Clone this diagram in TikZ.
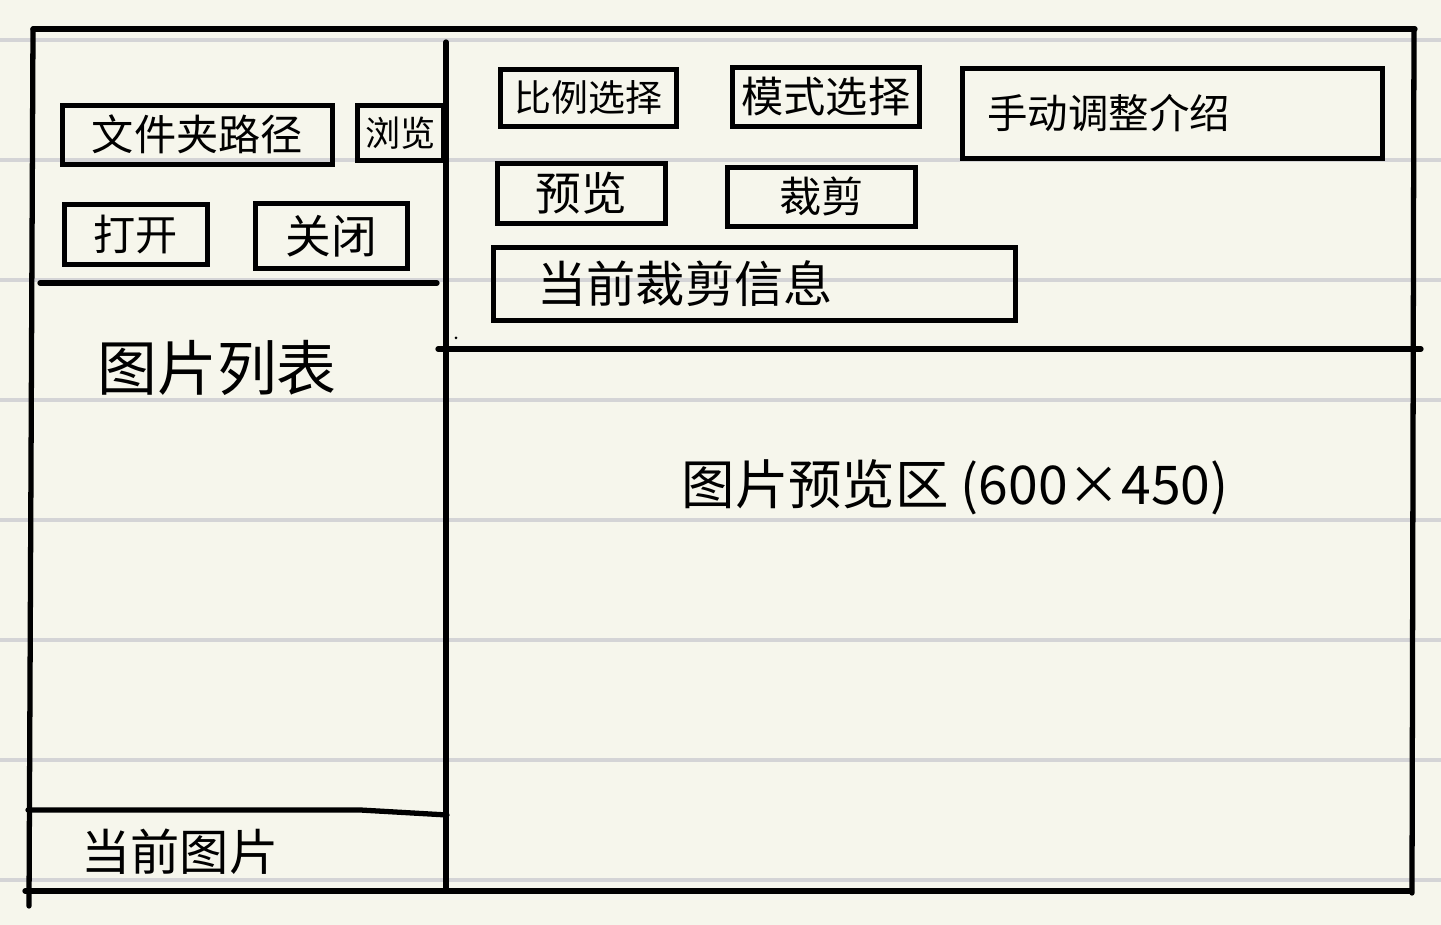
\documentclass[tikz,border=0pt]{standalone}
\usepackage{fontspec}
\setmainfont{Noto Sans CJK SC}
\usepackage{tikz}
\usepackage{xcolor}
\usetikzlibrary{positioning}
\definecolor{paper}{RGB}{246,246,236}
\definecolor{ruled}{RGB}{212,212,214}

\begin{document}
\begin{tikzpicture}[x=0.01cm, y=-0.01cm,
    btn/.style={draw, line width=1.3pt, anchor=north west, inner sep=0pt, font=\fontsize{12}{14}\selectfont},
    btnl/.style={btn, align=left, inner xsep=#1},
    frame/.style={line width=1.5pt, line cap=round}]
    % Paper with ruled lines
    \fill[paper] (0,0) rectangle (1441,925);
    \useasboundingbox (0,0) rectangle (1441,925);
    \foreach \y in {40,160,...,880}
        \draw[ruled, line width=0.9pt] (0,\y) -- (1441,\y);
    
    % Window frame
    \draw[frame] (33,29) -- (1415,29);
    \draw[frame] (33,29) -- (29,906);
    \draw[frame] (1414,29) -- (1412,893);
    \draw[frame] (25,891) -- (1410,891);
    
    % Left panel
    \draw[frame] (446,42) -- (446,890);
    \draw[frame] (40,283) -- (437,283);
    \draw[frame] (28,810) -- (360,810) -- (447,815);
    \fill (456,338) circle (1.5);
    
    \node[btn, minimum width=2.7cm, minimum height=0.59cm] (folderpath) at (60,103) {文件夹路径};
    \node[btn, minimum width=0.86cm, minimum height=0.55cm, font=\fontsize{10}{12}\selectfont] (browse) at (355,103) {浏览};
    \node[btn, minimum width=1.43cm, minimum height=0.6cm] (open) at (62,202) {打开};
    \node[btn, minimum width=1.52cm, minimum height=0.65cm, font=\fontsize{13}{15}\selectfont] (close) at (253,201) {关闭};
    
    \node[font=\fontsize{17}{19}\selectfont] (piclist) at (217,368) {图片列表};
    \node[font=\fontsize{14}{16}\selectfont] (curpic) at (180,852) {当前图片};
    
    % Right panel
    \draw[frame] (438,349) -- (1421,349);
    
    \node[btn, minimum width=1.76cm, minimum height=0.57cm, font=\fontsize{10.5}{12}\selectfont] (ratio) at (498,67) {比例选择};
    \node[btn, minimum width=1.87cm, minimum height=0.59cm] (mode) at (730,65) {模式选择};
    \node[btnl=0.25cm, text width=3.7cm, minimum height=0.9cm, font=\fontsize{11.5}{13}\selectfont] (manual) at (960,66) {手动调整介绍};
    \node[btn, minimum width=1.68cm, minimum height=0.6cm, font=\fontsize{13}{15}\selectfont] (preview) at (495,161) {预览};
    \node[btn, minimum width=1.88cm, minimum height=0.59cm] (crop) at (725,165) {裁剪};
    \node[btnl=0.44cm, text width=4.34cm, minimum height=0.73cm, font=\fontsize{14}{16}\selectfont] (cropinfo) at (491,245) {当前裁剪信息};
    
    \node[font=\fontsize{15.2}{17}\selectfont] (previewarea) at (955,487) {图片预览区 (600×450)};
\end{tikzpicture}
\end{document}
